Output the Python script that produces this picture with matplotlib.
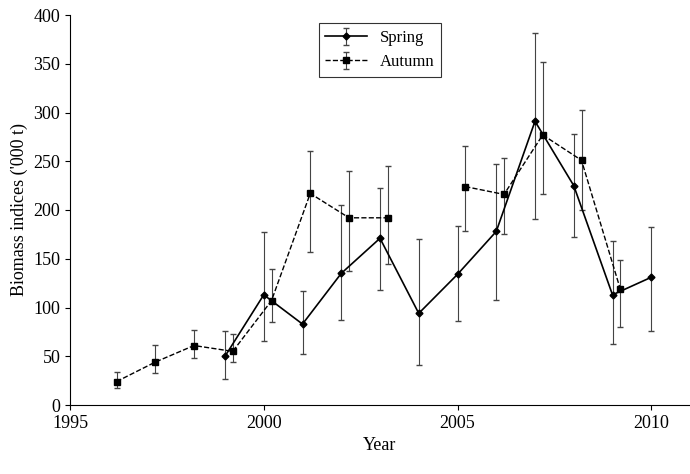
import numpy as np
import matplotlib.pyplot as plt

plt.rcParams["font.family"] = ["Liberation Serif", "DejaVu Serif"]

spring_year = [1999, 2000, 2001, 2002, 2003, 2004, 2005, 2006, 2007, 2008, 2009, 2010]
spring_val = [50, 113, 83, 135, 171, 94, 134, 178, 291, 225, 113, 131]
spring_lo = [27, 66, 52, 87, 118, 41, 86, 108, 191, 172, 63, 76]
spring_hi = [76, 177, 117, 205, 223, 170, 184, 247, 382, 278, 168, 183]

autumn_year = [1996.2, 1997.2, 1998.2, 1999.2, 2000.2, 2001.2, 2002.2, 2003.2,
               2004.2, 2005.2, 2006.2, 2007.2, 2008.2, 2009.2]
autumn_val = [24, 44, 61, 55, 107, 217, 192, 192, np.nan, 224, 216, 277, 251, 119]
autumn_lo = [17, 33, 48, 44, 85, 157, 137, 145, np.nan, 178, 175, 216, 200, 80]
autumn_hi = [34, 62, 77, 73, 140, 261, 240, 245, np.nan, 266, 253, 352, 303, 149]

fig = plt.figure(figsize=(6.9, 4.74), dpi=100)
ax = fig.add_axes([70 / 690, 69 / 474, 620 / 690, 390 / 474])

sv = np.array(spring_val, float)
av = np.array(autumn_val, float)
ax.errorbar(spring_year, sv,
            yerr=[sv - np.array(spring_lo), np.array(spring_hi) - sv],
            color="black", lw=1.2, marker="D", ms=3.5, ecolor="#444444",
            elinewidth=0.8, capsize=2, label="Spring")
ax.errorbar(autumn_year, av,
            yerr=[av - np.array(autumn_lo, float), np.array(autumn_hi, float) - av],
            color="black", lw=1.0, ls="--", marker="s", ms=5, ecolor="#444444",
            elinewidth=0.8, capsize=2, label="Autumn")

ax.set_xlim(1995, 2011)
ax.set_ylim(0, 400)
ax.set_xticks([1995, 2000, 2005, 2010])
ax.set_yticks(range(0, 401, 50))
ax.tick_params(labelsize=13, direction="out")
ax.spines["top"].set_visible(False)
ax.spines["right"].set_visible(False)
ax.set_xlabel("Year", fontsize=13)
ax.set_ylabel("Biomass indices ('000 t)", fontsize=13)
leg = ax.legend(loc="upper center", bbox_to_anchor=(0.5, 1.0), fontsize=12,
                fancybox=False, edgecolor="black", handlelength=2.5)
leg.get_frame().set_linewidth(0.8)

fig.savefig("out.png", dpi=100)
